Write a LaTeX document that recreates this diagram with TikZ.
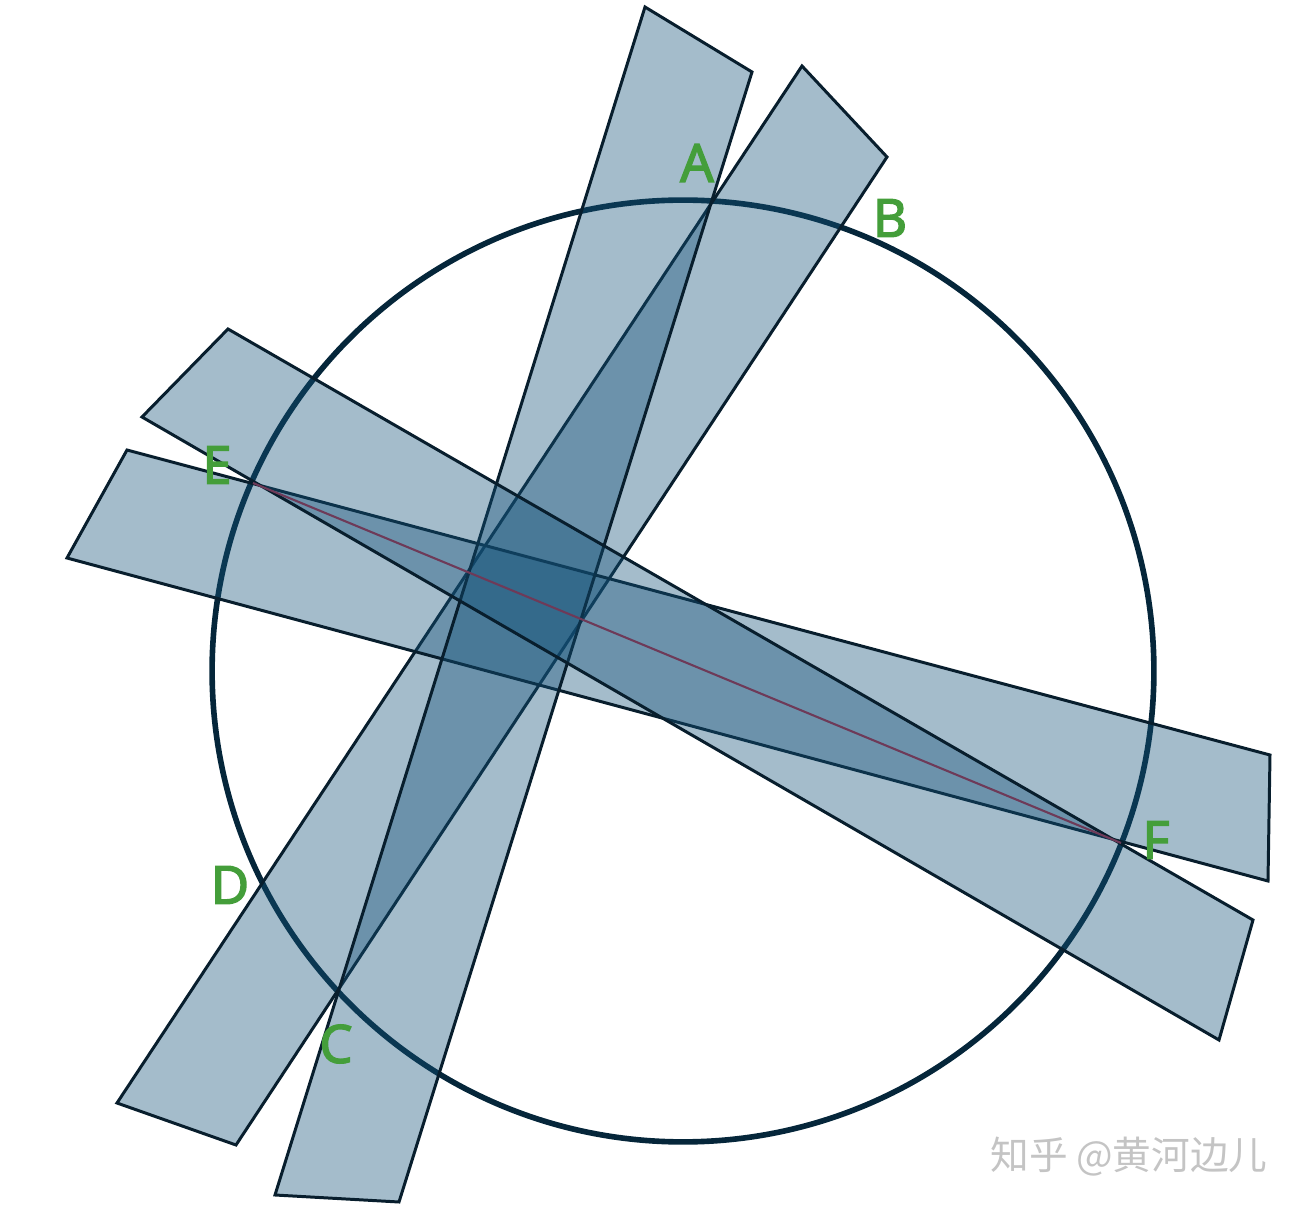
\documentclass[tikz,border=0pt]{standalone}
\usepackage{fontspec}
\newfontfamily\labelfont{Noto Sans}[FakeBold=2.5]
\newfontfamily\cjkfont{Noto Sans CJK SC}
\usetikzlibrary{calc}
\definecolor{stripfill}{RGB}{20,82,121}
\definecolor{stripline}{RGB}{8,30,45}
\definecolor{circleline}{RGB}{5,38,58}
\definecolor{pointgreen}{RGB}{68,158,58}
\definecolor{chordred}{RGB}{110,58,88}
\definecolor{markgray}{RGB}{196,196,196}

\begin{document}
\begin{tikzpicture}
    [%
        x=0.02cm,%
        y=-0.02cm,%
        strip/.style={%
            draw=stripline,%
            line width=1.7pt,%
            fill=stripfill,%
            fill opacity=0.39%
        },%
        point label/.style={%
            text=pointgreen,%
            font=\labelfont\fontsize{30pt}{30pt}\selectfont%
        },%
        watermark/.style={%
            text=markgray,%
            font=\cjkfont\fontsize{22pt}{22pt}\selectfont%
        }%
    ]%
    \useasboundingbox (0,0) rectangle (1302,1212);
%
    % the circle and the six points on it
    \coordinate (O) at (683,671);
    \foreach \pname/\x/\y in {%
        A/712/200,%
        B/840/228,%
        C/338/992,%
        D/262/883,%
        E/253/483,%
        F/1121/843%
    }{%
        \coordinate (\pname) at (\x,\y);%
    } % \foreach \pname
    \draw[circleline, line width=3.2pt] (O) circle [radius=9.42cm];
%
    % corners of the four strips
    % \corner strip-corner name
    % \x/\y corner coordinates
    \foreach \corner/\x/\y in {%
        s1-1/645/7, s1-2/752/72, s1-3/399/1202, s1-4/275/1195,%
        s2-1/802/66, s2-2/887/157, s2-3/236/1145, s2-4/117/1103,%
        s3-1/228/329, s3-2/1253/920, s3-3/1219/1040, s3-4/142/417,%
        s4-1/127/450, s4-2/1270/755, s4-3/1268/881, s4-4/67/558%
    }{%
        \coordinate (\corner) at (\x,\y);%
    } % \foreach \corner
%
    % draw the strips, later ones over earlier ones
    \foreach \s in {2,4,1,3} {
        \draw[strip] (s\s-1) -- (s\s-2) -- (s\s-3) -- (s\s-4) -- cycle;
    } % \foreach \s
%
    % chord EF
    \draw[chordred, line width=1.2pt] (E) -- (F);
%
    % point labels
    \foreach \pname/\x/\y in {%
        A/697/163,%
        B/890/218,%
        C/336/1044,%
        D/230/885,%
        E/217/465,%
        F/1156/840%
    }{%
        \node[point label] (\pname-label) at (\x,\y) {\pname};%
    } % \foreach \pname
%
    \node[watermark] (mark) at (1129,1157) {知乎 @黄河边儿};
\end{tikzpicture}
\end{document}
